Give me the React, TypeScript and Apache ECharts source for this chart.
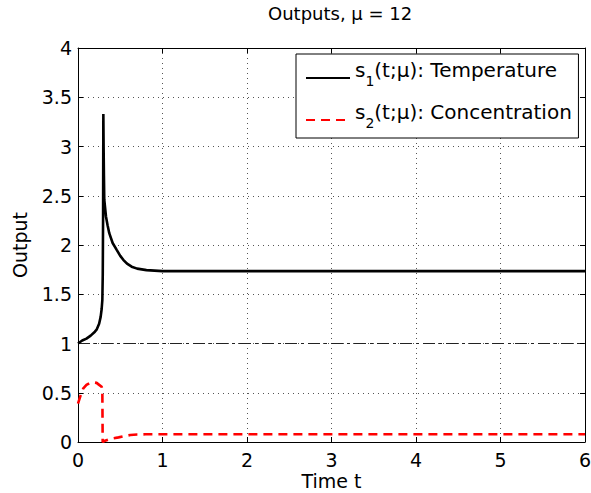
import React, { useEffect, useRef } from "react";
import * as echarts from "echarts";

// Temperature output s1(t; mu)
const timeS1 = [0, 0.05, 0.1, 0.15, 0.2, 0.22, 0.25, 0.268, 0.28, 0.288, 0.293, 0.297, 0.3, 0.303, 0.307, 0.311, 0.331, 0.35, 0.37, 0.41, 0.458, 0.5, 0.536, 0.58, 0.635, 0.7, 0.81, 1.0, 6];
const valueS1 = [1.0, 1.03, 1.05, 1.08, 1.12, 1.14, 1.2, 1.27, 1.35, 1.44, 1.7, 2.3, 3.33, 3.0, 2.7, 2.46, 2.29, 2.2, 2.12, 2.02, 1.95, 1.89, 1.85, 1.81, 1.78, 1.76, 1.745, 1.735, 1.735];

// Concentration output s2(t; mu)
const timeS2 = [0, 0.03, 0.063, 0.1, 0.14, 0.18, 0.22, 0.25, 0.28, 0.288, 0.292, 0.3, 0.32, 0.36, 0.42, 0.48, 0.55, 0.62, 0.7, 0.8, 6];
const valueS2 = [0.39, 0.47, 0.545, 0.58, 0.6, 0.606, 0.6, 0.58, 0.56, 0.53, 0.0, 0.0, 0.013, 0.025, 0.038, 0.047, 0.06, 0.071, 0.076, 0.078, 0.078];

// Reference level
const refTime = [0, 6];
const refValue = [1, 1];

const seriesNames = ["s1(t;μ): Temperature", "s2(t;μ): Concentration"];
const legendRich = [
  "{n|s}{sub|1}{n|(t;μ): Temperature}{pad| }",
  "{n|s}{sub|2}{n|(t;μ): Concentration}{pad| }",
];
const titleText = "Outputs, μ = 12";
const xName = "Time t";
const yName = "Output";

const FONT = "DejaVu Sans";

export default function App() {
  const ref = useRef<HTMLDivElement>(null);
  useEffect(() => {
    if (!ref.current) return;
    const chart = echarts.init(ref.current, null, { renderer: "svg" });
    const zip = (a: number[], b: number[]) => a.map((t, i) => [t, b[i]]);
    chart.setOption({
      animation: false,
      backgroundColor: "#fff",
      title: {
        text: titleText,
        left: 268,
        top: 0,
        padding: [4, 0, 0, 0],
        textStyle: { fontFamily: FONT, fontSize: 18, fontWeight: "normal", color: "#000" },
      },
      grid: { left: 78, right: 6, top: 48, bottom: 51, containLabel: false, outerBoundsMode: "none" },
      legend: {
        data: seriesNames.map((name) => ({ name, itemStyle: { opacity: 0 } })),
        orient: "vertical",
        left: 296,
        top: 54,
        padding: [6, 6, 8, 9],
        itemGap: 14,
        itemWidth: 44,
        itemHeight: 16,
        backgroundColor: "#fff",
        borderColor: "#000",
        borderWidth: 1,
        borderRadius: 0,
        itemStyle: { opacity: 0 },
        formatter: (name: string) => legendRich[seriesNames.indexOf(name)],
        textStyle: {
          color: "#000",
          fontFamily: FONT,
          rich: {
            n: { fontFamily: FONT, fontSize: 20, color: "#000", lineHeight: 22, verticalAlign: "top" },
            sub: { fontFamily: FONT, fontSize: 14, color: "#000", lineHeight: 14, padding: [14, 0, 0, 0], verticalAlign: "top" },
            pad: { fontFamily: FONT, fontSize: 2, lineHeight: 36, verticalAlign: "top" },
          },
        },
      },
      xAxis: [
        {
          type: "value",
          min: 0,
          max: 6,
          interval: 1,
          name: xName,
          nameLocation: "middle",
          nameGap: 29,
          nameMoveOverlap: false,
          nameTextStyle: { fontFamily: FONT, fontSize: 19, color: "#000", lineHeight: 19 },
          axisLine: { show: true, onZero: false, lineStyle: { color: "#000", width: 1 } },
          axisTick: { show: true, inside: true, length: 5, lineStyle: { color: "#000" } },
          axisLabel: { fontFamily: FONT, fontSize: 19, color: "#000", margin: 9, lineHeight: 18 },
          splitLine: { show: true, lineStyle: { color: "#555", type: [1, 4], width: 1 } },
        },
        {
          type: "value",
          position: "top",
          min: 0,
          max: 6,
          interval: 1,
          axisLine: { show: true, onZero: false, lineStyle: { color: "#000", width: 1 } },
          axisTick: { show: true, inside: true, length: 5, lineStyle: { color: "#000" } },
          axisLabel: { show: false },
          splitLine: { show: false },
        },
      ],
      yAxis: [
        {
          type: "value",
          min: 0,
          max: 4,
          interval: 0.5,
          name: yName,
          nameLocation: "middle",
          nameGap: 49,
          nameTextStyle: { fontFamily: FONT, fontSize: 19, color: "#000" },
          axisLine: { show: true, onZero: false, lineStyle: { color: "#000", width: 1 } },
          axisTick: { show: true, inside: true, length: 5, lineStyle: { color: "#000" } },
          axisLabel: { fontFamily: FONT, fontSize: 19, color: "#000", margin: 6 },
          splitLine: { show: true, lineStyle: { color: "#555", type: [1, 4], width: 1 } },
        },
        {
          type: "value",
          position: "right",
          min: 0,
          max: 4,
          interval: 0.5,
          axisLine: { show: true, onZero: false, lineStyle: { color: "#000", width: 1 } },
          axisTick: { show: true, inside: true, length: 5, lineStyle: { color: "#000" } },
          axisLabel: { show: false },
          splitLine: { show: false },
        },
      ],
      series: [
        {
          name: "reference",
          type: "line",
          data: zip(refTime, refValue),
          symbol: "none",
          silent: true,
          lineStyle: { color: "#222", width: 1, type: [12, 4, 3, 4] },
          z: 1,
        },
        {
          name: seriesNames[0],
          type: "line",
          data: zip(timeS1, valueS1),
          symbol: "none",
          lineStyle: { color: "#000", width: 2.6 },
          itemStyle: { color: "#000" },
          z: 3,
        },
        {
          name: seriesNames[1],
          type: "line",
          data: zip(timeS2, valueS2),
          symbol: "none",
          lineStyle: { color: "#ff0000", width: 2.6, type: [9, 6] },
          itemStyle: { color: "#ff0000" },
          z: 2,
        },
      ],
    });
    return () => chart.dispose();
  }, []);
  return (
    <div
      ref={ref}
      style={{ position: "absolute", left: 0, top: 0, width: 591, height: 493 }}
    />
  );
}
